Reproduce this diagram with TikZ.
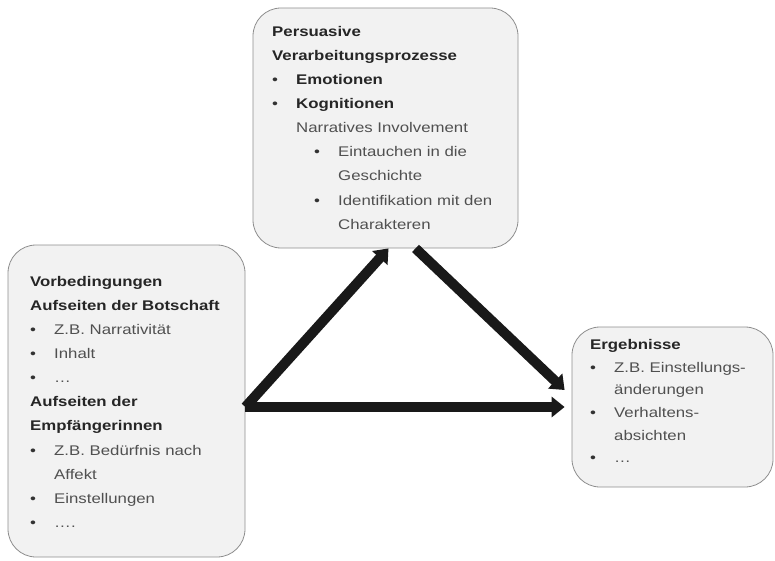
\documentclass[tikz,border=0pt]{standalone}
\usepackage{fontspec}
\setmainfont{Liberation Sans}[FakeStretch=1.2]
\usetikzlibrary{arrows.meta}
\definecolor{boxfill}{HTML}{F2F2F2}
\definecolor{boxline}{HTML}{8E8E8E}
\definecolor{bodytext}{HTML}{505050}
\newcommand\hd[1]{\textcolor{black!85}{\textbf{#1}}}
\newcommand\itm[1]{\makebox[24pt][l]{\textcolor{black!80}{\textbullet}}#1}
\newcommand\cnt[1]{\hspace*{24pt}#1}
\tikzset{
  stage/.style={draw=boxline, fill=boxfill, line width=0.8pt, rounded corners=28pt, inner sep=0pt},
  boxtext/.style={anchor=north west, align=left, inner sep=0pt, text=bodytext,
    font=\fontsize{14}{24.1}\selectfont},
  flow/.style={line width=10pt, black!90, -{Triangle[width=20pt,length=13pt]}}
}
\begin{document}
\begin{tikzpicture}[x=1pt,y=-1pt]
  \useasboundingbox (0,0) rectangle (775,561);
  % boxes
  \node[stage, minimum width=237pt, minimum height=312pt] (L) at (126.5,401) {};
  \node[stage, minimum width=265pt, minimum height=240pt] (T) at (385.5,128) {};
  \node[stage, minimum width=201pt, minimum height=160pt] (R) at (672.5,407) {};
  % texts
  \node[boxtext] (Ltext) at (30,276) {\hd{Vorbedingungen}\\
    \hd{Aufseiten der Botschaft}\\
    \itm{Z.B. Narrativität}\\
    \itm{Inhalt}\\
    \itm{\dots}\\
    \hd{Aufseiten der}\\
    \hd{Empfängerinnen}\\
    \itm{Z.B. Bedürfnis nach}\\
    \cnt{Affekt}\\
    \itm{Einstellungen}\\
    \itm{\dots.}};
  \node[boxtext] (Ttext) at (272,26) {\hd{Persuasive}\\
    \hd{Verarbeitungsprozesse}\\
    \itm{\hd{Emotionen}}\\
    \itm{\hd{Kognitionen}}\\
    \cnt{Narratives Involvement}\\
    \hspace*{42pt}\itm{Eintauchen in die}\\
    \hspace*{42pt}\cnt{Geschichte}\\
    \hspace*{42pt}\itm{Identifikation mit den}\\
    \hspace*{42pt}\cnt{Charakteren}};
  \node[boxtext, font=\fontsize{14}{22.7}\selectfont] (Rtext) at (590,339) {\hd{Ergebnisse}\\
    \itm{Z.B. Einstellungs-}\\
    \cnt{änderungen}\\
    \itm{Verhaltens-}\\
    \cnt{absichten}\\
    \itm{\dots}};
  % arrows
  \draw[flow] ([yshift=-6pt]L.east) -- ([xshift=3pt]T.south);
  \draw[flow] ([xshift=30pt]T.south) -- ([xshift=-7pt,yshift=17pt]R.west);
  \draw[flow] ([yshift=-6pt]L.east) -- ([xshift=-7pt]R.west);
\end{tikzpicture}
\end{document}
